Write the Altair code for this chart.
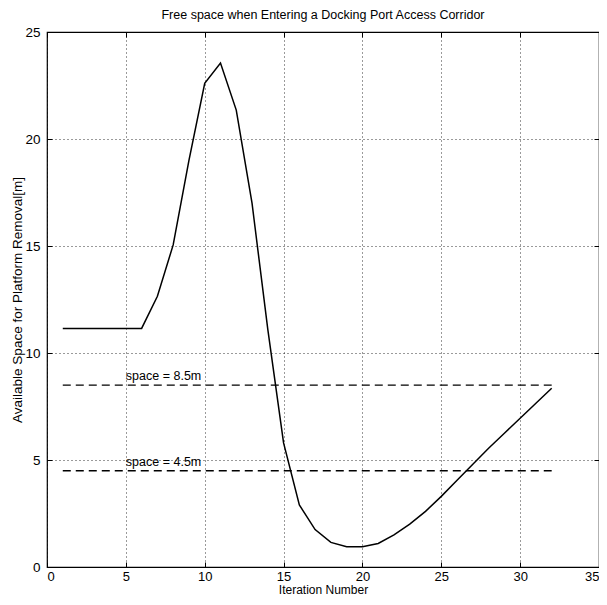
import altair as alt
import pandas as pd

# ---- data ----
iterations = list(range(1, 33))
space = [11.15, 11.15, 11.15, 11.15, 11.15, 11.15, 12.65, 15.05, 19.0, 22.6,
         23.55, 21.35, 17.0, 11.1, 5.8, 2.9, 1.75, 1.15, 0.95, 0.95,
         1.1, 1.5, 2.0, 2.6, 3.3, 4.05, 4.8, 5.55, 6.25, 6.95, 7.65, 8.35]
thresholds = [8.5, 4.5]
threshold_labels = ["space = 8.5m", "space = 4.5m"]
threshold_start = [1, 1]
threshold_end = [32, 32]
label_x = [5, 5]
x_ticks = [0, 5, 10, 15, 20, 25, 30, 35]
y_ticks = [0, 5, 10, 15, 20, 25]

FONT = "Liberation Sans Narrow, Liberation Sans, Arial, sans-serif"

df = pd.DataFrame({"iteration": iterations, "space": space})
thr = pd.DataFrame({"x": threshold_start, "x2": threshold_end, "lx": label_x,
                    "y": thresholds, "label": threshold_labels})

xscale = alt.Scale(domain=[0, 35], nice=False, zero=False)
yscale = alt.Scale(domain=[0, 25], nice=False, zero=False)

main_x_axis = alt.Axis(values=x_ticks, title="Iteration Number", grid=True,
                       gridDash=[1, 3], gridColor="black", gridOpacity=1, gridWidth=0.8,
                       domain=False, tickSize=5, offset=-5, tickColor="black",
                       labelPadding=3, labelFontSize=13, labelColor="black",
                       labelFont=FONT, titleFont=FONT, titleFontSize=12,
                       titleFontWeight="normal", titleColor="black", titlePadding=1)
main_y_axis = alt.Axis(values=y_ticks, title="Available Space for Platform Removal[m]",
                       grid=True, gridDash=[1, 3], gridColor="black", gridOpacity=1,
                       gridWidth=0.8, domain=False, tickSize=5, offset=-5,
                       tickColor="black", labelPadding=7, labelFontSize=13.5,
                       labelColor="black", labelFont=FONT, titleFont="Liberation Sans",
                       titleFontSize=13.5, titleFontWeight="normal", titleColor="black",
                       titlePadding=0)

line = alt.Chart(df).mark_line(color="black", strokeWidth=1.5).encode(
    x=alt.X("iteration:Q", scale=xscale, axis=main_x_axis),
    y=alt.Y("space:Q", scale=yscale, axis=main_y_axis),
)

top_axis = alt.Axis(values=x_ticks, orient="top", labels=False, title=None, grid=False,
                    domain=False, tickSize=5, offset=-5, tickColor="black")
right_axis = alt.Axis(values=y_ticks, orient="right", labels=False, title=None, grid=False,
                      domain=False, tickSize=5, offset=-5, tickColor="black")

rules = alt.Chart(thr).mark_rule(color="black", strokeWidth=1.4, strokeDash=[8, 5]).encode(
    x=alt.X("x:Q", scale=xscale, axis=top_axis),
    x2="x2:Q",
    y=alt.Y("y:Q", scale=yscale, axis=right_axis),
)

labels = alt.Chart(thr).mark_text(align="left", baseline="alphabetic", dy=-5,
                                  fontSize=12.5, font=FONT, color="black").encode(
    x=alt.X("lx:Q", scale=xscale, axis=None),
    y=alt.Y("y:Q", scale=yscale, axis=None),
    text="label:N",
)

chart = alt.layer(line, rules, labels).resolve_axis(
    x="independent", y="independent"
).properties(
    width=552,
    height=535,
    padding={"left": 39, "top": 24, "right": 0, "bottom": 30},
    autosize=alt.AutoSizeParams(type="none"),
    title=alt.Title("Free space when Entering a Docking Port Access Corridor",
                    fontSize=12.5, font=FONT, fontWeight="normal", color="black",
                    offset=4),
    background="white",
).configure_view(stroke="black", strokeWidth=1.2)

chart.save("out.html", embed_options={"renderer": "svg", "actions": False})
